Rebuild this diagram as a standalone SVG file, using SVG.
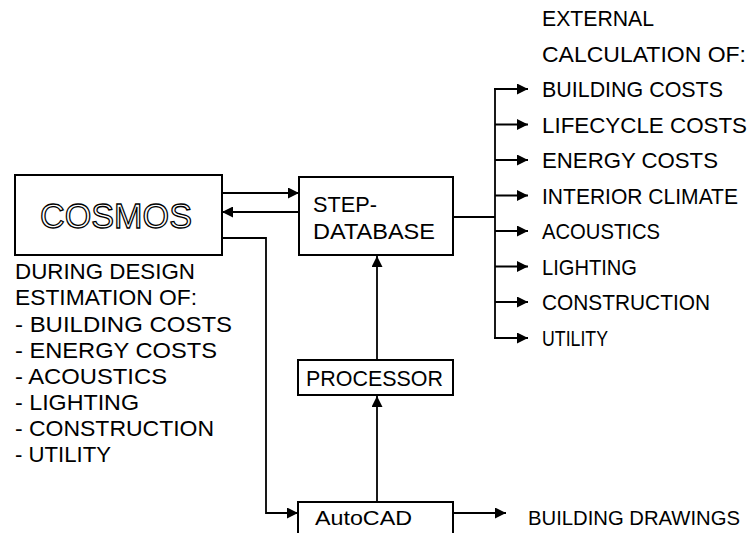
<svg xmlns="http://www.w3.org/2000/svg" width="750" height="533" viewBox="0 0 750 533">
<defs>
<marker id="ah" viewBox="0 0 10 10" refX="10" refY="5" markerWidth="11" markerHeight="11" markerUnits="userSpaceOnUse" orient="auto">
<path d="M0,0 L10,5 L0,10 z" fill="#000"/>
</marker>
<style>
text{font-family:"Liberation Sans",Arial,sans-serif;font-size:22px;fill:#000}
.box{fill:#fff;stroke:#000;stroke-width:2}
.c{fill:none;stroke:#000;stroke-width:1.8}
.a{fill:none;stroke:#000;stroke-width:1.8;marker-end:url(#ah)}
.cos{font-size:35px;fill:#fff;stroke:#000;stroke-width:1.3}
.sm{font-size:21px}
</style>
</defs>
<rect width="750" height="533" fill="#fff"/>
<g id="connectors">
<line class="a" x1="222" y1="193" x2="299" y2="193"/>
<line class="a" x1="299" y1="212" x2="222" y2="212"/>
<polyline class="a" points="222,238 266,238 266,513 298,513"/>
<line class="c" x1="453" y1="217" x2="495" y2="217"/>
<line class="c" x1="495" y1="89" x2="495" y2="338"/>
<line class="a" x1="494" y1="89" x2="528" y2="89"/>
<line class="a" x1="495" y1="124.5" x2="528" y2="124.5"/>
<line class="a" x1="495" y1="160" x2="528" y2="160"/>
<line class="a" x1="495" y1="195.5" x2="528" y2="195.5"/>
<line class="a" x1="495" y1="231" x2="528" y2="231"/>
<line class="a" x1="495" y1="266.5" x2="528" y2="266.5"/>
<line class="a" x1="495" y1="302" x2="528" y2="302"/>
<line class="a" x1="494" y1="338" x2="528" y2="338"/>
<line class="a" x1="377" y1="360" x2="377" y2="256"/>
<line class="a" x1="377" y1="502" x2="377" y2="396"/>
<line class="a" x1="453" y1="513" x2="506" y2="513"/>
</g>
<g id="cosmos">
<rect class="box" x="15" y="175" width="207" height="80"/>
<text class="cos" x="40" y="228" textLength="152" lengthAdjust="spacingAndGlyphs">COSMOS</text>
</g>
<g id="cosmos-notes">
<text x="15" y="279" textLength="180" lengthAdjust="spacingAndGlyphs">DURING DESIGN</text>
<text x="15" y="305" textLength="182" lengthAdjust="spacingAndGlyphs">ESTIMATION OF:</text>
<text x="15" y="332" textLength="217" lengthAdjust="spacingAndGlyphs">- BUILDING COSTS</text>
<text x="15" y="358" textLength="202" lengthAdjust="spacingAndGlyphs">- ENERGY COSTS</text>
<text x="15" y="384" textLength="152" lengthAdjust="spacingAndGlyphs">- ACOUSTICS</text>
<text x="15" y="410" textLength="124" lengthAdjust="spacingAndGlyphs">- LIGHTING</text>
<text x="15" y="436" textLength="199" lengthAdjust="spacingAndGlyphs">- CONSTRUCTION</text>
<text x="15" y="462" textLength="96" lengthAdjust="spacingAndGlyphs">- UTILITY</text>
</g>
<g id="step-database">
<rect class="box" x="299" y="177" width="154" height="78"/>
<text x="313" y="212" textLength="64" lengthAdjust="spacingAndGlyphs">STEP-</text>
<text x="313" y="239" textLength="122" lengthAdjust="spacingAndGlyphs">DATABASE</text>
</g>
<g id="external">
<text x="542" y="26" textLength="112" lengthAdjust="spacingAndGlyphs">EXTERNAL</text>
<text x="542" y="61.5" textLength="204" lengthAdjust="spacingAndGlyphs">CALCULATION OF:</text>
<text x="542" y="97" textLength="181" lengthAdjust="spacingAndGlyphs">BUILDING COSTS</text>
<text x="542" y="132.5" textLength="205" lengthAdjust="spacingAndGlyphs">LIFECYCLE COSTS</text>
<text x="542" y="168" textLength="176" lengthAdjust="spacingAndGlyphs">ENERGY COSTS</text>
<text x="542" y="203.5" textLength="196" lengthAdjust="spacingAndGlyphs">INTERIOR CLIMATE</text>
<text x="542" y="239" textLength="118" lengthAdjust="spacingAndGlyphs">ACOUSTICS</text>
<text x="542" y="274.5" textLength="95" lengthAdjust="spacingAndGlyphs">LIGHTING</text>
<text x="542" y="310" textLength="168" lengthAdjust="spacingAndGlyphs">CONSTRUCTION</text>
<text x="542" y="346" textLength="66" lengthAdjust="spacingAndGlyphs">UTILITY</text>
</g>
<g id="processor">
<rect class="box" x="298" y="360" width="155" height="35"/>
<text x="306" y="386" textLength="137" lengthAdjust="spacingAndGlyphs">PROCESSOR</text>
</g>
<g id="autocad">
<rect class="box" x="298" y="502" width="155" height="40"/>
<text class="sm" x="315" y="525" textLength="97" lengthAdjust="spacingAndGlyphs">AutoCAD</text>
</g>
<g id="drawings">
<text class="sm" x="528" y="525" textLength="212" lengthAdjust="spacingAndGlyphs">BUILDING DRAWINGS</text>
</g>
</svg>
